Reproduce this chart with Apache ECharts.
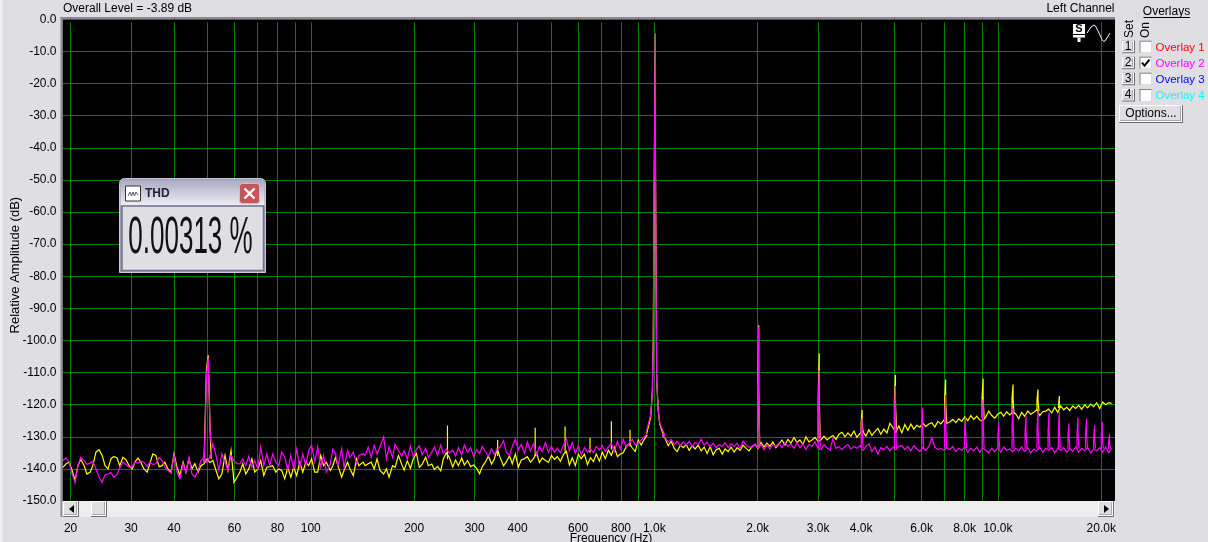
<!DOCTYPE html>
<html>
<head>
<meta charset="utf-8">
<style>html,body{margin:0;padding:0;background:#dfdfe3;overflow:hidden}#c{width:1208px;height:542px}</style>
<script src="https://cdn.jsdelivr.net/npm/echarts@6/dist/echarts.min.js"></script>
</head>
<body>
<div id="c"></div>
<script>
const noiseHz = [
19.0,19.4,19.8,20.2,20.6,21.0,21.4,21.9,22.3,22.8,
23.2,23.7,24.2,24.7,25.2,25.7,26.2,26.7,27.3,27.8,
28.4,29.0,29.6,30.2,30.8,31.4,32.0,32.7,33.4,34.0,
34.7,35.4,36.2,36.9,37.6,38.4,39.2,40.0,40.8,41.6,
42.5,43.3,44.2,45.1,46.0,47.0,47.9,48.9,49.9,50.9,
51.9,53.0,54.0,55.1,56.3,57.4,58.6,59.8,61.0,62.2,
63.4,64.7,66.0,67.4,68.7,70.1,71.5,73.0,74.5,76.0,
77.5,79.1,80.7,82.3,84.0,85.7,87.5,89.2,91.0,92.9,
94.8,96.7,98.6,100.6,102.7,104.8,106.9,109,111,114,
116,118,120,123,125,128,130,133,136,138,
142,144,147,150,153,156,159,163,166,169,
173,176,180,184,187,191,195,199,203,207,
211,216,220,225,229,234,239,243,248,253,
259,264,269,275,280,286,292,298,304,310,
316,322,329,336,342,349,356,364,371,379,
386,394,402,410,419,427,436,445,454,463,
472,482,492,502,512,522,533,544,555,566,
577,589,601,613,626,639,652,665,678,692,
706,720,735,750,765,781,796,812,829,846,
863,880,898,916,935,954,973,993,1013,1034,
1055,1076,1098,1120,1143,1166,1190,1214,1238,1263,
1289,1315,1342,1369,1397,1425,1454,1484,1514,1545,
1576,1607,1640,1673,1707,1742,1777,1813,1850,1887,
1926,1964,2004,2045,2086,2128,2171,2215,2260,2306,
2353,2401,2450,2499,2550,2602,2654,2708,2763,2819,
2876,2936,2995,3056,3118,3182,3246,3312,3379,3448,
3517,3589,3661,3736,3812,3889,3968,4048,4130,4214,
4299,4387,4476,4566,4659,4754,4850,4949,5049,5151,
5256,5362,5471,5582,5695,5811,5929,6049,6172,6297,
6425,6555,6688,6824,6962,7104,7248,7395,7545,7698,
7854,8013,8176,8342,8511,8684,8860,9040,9223,9410,
9601,9796,9995,10200,10400,10610,10830,11050,11270,11500,
11730,11970,12220,12470,12720,12980,13240,13510,13780,14060,
14350,14640,14940,15240,15550,15870,16190,16520,16850,17190,
17540,17900,18260,18630,19010,19400,19790,20190,20600,21020,
21450];

const yellowDb = [
-139.5,-138.4,-137.9,-140.5,-143.6,-139,-137,-139,-141.6,-141,
-139,-134.8,-134,-135.8,-139,-140,-136.9,-136.1,-136.6,-139,
-136.4,-137.2,-139,-140,-137.9,-136.6,-137.9,-140,-141,-138.4,
-135.3,-135.8,-139.3,-139,-137.9,-140,-141,-135.3,-139.5,-142,
-137.9,-141,-136.9,-140,-138.4,-141,-139,-138.4,-137,-138,
-137.4,-140.5,-143.1,-141.6,-135.8,-140.5,-134.3,-144.2,-142.6,-141,
-138.4,-141.6,-140,-136.9,-141,-140,-137.4,-142.1,-139.5,-139.3,
-139,-141,-140,-140.5,-143.1,-139.5,-142.6,-139.5,-142.1,-137.9,
-141,-137.9,-139,-136.9,-141,-141,-135.8,-139,-137.9,-140.5,
-139,-136.4,-139,-142.6,-140.5,-137.9,-140,-142.1,-136.9,-139,
-137.9,-139,-138.4,-137.9,-140,-136.9,-140.5,-141.6,-140,-142.6,
-139,-139.5,-135.8,
-138.6,-140.4,-137.5,-139.8,-136.8,-135.2,-139.5,-138.6,-136.4,-139,
-138.5,-140.2,-139.2,-140.6,-137,-135,-136.4,-139.4,-137.2,-139,
-136.6,-138.8,-137.4,-139.3,-138.8,-139.8,-141.5,-139.2,-138,-136,
-138.5,-137,-133.8,-136.5,-139,-137.8,-135.9,-138.4,-135.4,-139.4,
-137.2,-136.8,-136.2,-137.9,-136.8,-135,-138,-136.6,-137.4,-138,
-135.8,-137,-136.2,-137.6,-135.5,-134.6,-138.8,-136.6,-139,-135.5,
-136.8,-135.4,-138.7,-136.5,-137.7,-135.4,-137.6,-134.8,-136.8,-134.2,
-135.8,-133.2,-136.2,-135.4,-135,-133,-132,-133.5,-134.6,-131,
-132.6,-130.8,-129.4,null,
null,null,null,
-129.5,-130.6,-132.8,-131.4,-133.6,-134.6,-132.6,-133.4,-132.4,-134.2,
-132.8,-133.8,-132.6,-134.4,-133.2,-135.2,-133,-135.6,-134,-133.6,
-135.4,-133.8,-134.6,-133.2,-134.8,-133.4,-134.2,-132.6,-133.6,-134.4,
-133,-132.4,-133.6,-131.8,-133.2,-132,-133,-131.6,-133.4,-132.2,
-131,-132.6,-130.8,-132,-130.2,-131.8,-131,-132.4,-130,-131.6,
-131,-130.2,-131.4,-131,-129.8,-131,-130.2,-129.6,-130.8,-129.2,
-128.6,-130,-128.8,-129.8,-128.2,-130.2,-129,-128.4,-129.8,-127.8,
-129.6,-128.4,-127.4,-129.2,-127.6,-128.8,-125.8,-127.2,-128.6,-126.6,
-128.8,-126.2,-128,-126,-127.6,-126.4,-127,-125.8,-126.8,-126,
-125.6,-127,-125.2,-126,-124.8,-125.8,-125.4,-124.6,-125.6,-124.4,
-125.2,-123.8,-125,-123.4,-124.6,-123.6,-124.8,-125,-123.8,-122,
-123.4,-124.2,-123,-122.4,-123.6,-122.2,-123.2,-122.4,-122.8,-124.4,
-122.4,-123.6,-122,-123,-122.4,-121.6,-123.4,-122.2,-122,-121.4,
-122.6,-120.8,-122.4,-120.4,-121.6,-120.8,-121.8,-120.4,-121.2,-120.2,
-121.4,-120,-121,-119.8,-120.6,-119.4,-121.2,-119.2,-120,-119.4,-119.6];

const magentaDb = [
-137.4,-136.6,-137.9,-141.6,-144.2,-139,-136.4,-137.4,-138.6,-138.2,
-137.6,-140,-142.6,-144.2,-141.8,-141.6,-141.1,-142.6,-141.8,-139.7,
-137.9,-138.6,-139.5,-139.3,-137.9,-138.2,-137.6,-137.9,-139.3,-137.9,
-138.6,-138.4,-136.4,-137.4,-139.5,-140.5,-141.4,-135.8,-141,-143.1,
-138.4,-141,-136.4,-141.6,-142.6,-140.5,-137.4,-136.4,-138,-136,
-132.2,-135.8,-140.5,-135.3,-137.9,-140.5,-135.8,-137.4,-138.4,-138.4,
-136.9,-139,-136.1,-139.5,-137.4,-140,-133.2,-139,-135.3,-139,
-135.3,-137.9,-139,-134.8,-136.4,-140.5,-135.8,-140,-133.8,-139.5,
-135.3,-139,-134.3,-132.7,-137.9,-133.2,-139.5,-135.8,-141,-138.4,
-133.8,-135.3,-139,-133.8,-139.5,-134.3,-136.4,-134.8,-138.4,-135.8,
-135.3,-135.8,-133.2,-136.4,-132.7,-135.3,-133.2,-130.1,-136.9,-133.2,
-136.4,-132.4,-134.3,
-136,-134.4,-137,-133,-136.2,-134,-132.8,-135.6,-133.6,-136.4,
-134.8,-133.2,-135.8,-132.6,-135.2,-133.8,-135,-134.2,-136,-133.4,
-135.6,-132.6,-134.8,-133.4,-136.2,-134,-135.2,-133,-134.6,-136,
-133.8,-135.4,-134,-133.2,-131.2,-134.8,-135.8,-133,-130.8,-134,
-132.4,-135.2,-131.6,-134.4,-132.2,-135.6,-133,-134.6,-131.8,-134.8,
-133,-134.8,-133.6,-135,-132.6,-130.8,-134.4,-131.8,-135.2,-132.8,
-135.6,-133.4,-134.8,-133.8,-135,-133,-134.2,-132.8,-134.6,-133.2,
-132,-134.6,-131.4,-133.8,-130.8,-133.4,-132,-130.8,-132.6,-131.8,
-131,-130,-129,null,
null,null,null,
-129,-130.4,-131.6,-130.8,-132.4,-131.4,-132.8,-131.6,-132.6,-131.4,
-133,-131.8,-132.4,-130.8,-132.6,-131.6,-133.2,-132,-133.4,-132.4,
-133,-131.8,-133.4,-132.2,-133,-132,-133.6,-131.4,-132.6,-133.2,
-133.2,-132.2,-133.6,-132.4,-134,-132.6,-133.8,-132.4,-133,-132,
-133.4,-131.8,-133,-132.2,-133.6,-131.8,-133.4,-132.2,-134,-132.4,
-133,-131.6,-133.6,-134,-132.4,-133.4,-134.2,-130.6,-133.6,-133,
-134,-133,-132.4,-133.8,-133,-133.6,-132.8,-134.2,-133,-132.2,
-134.6,-133.2,-135.4,-133.4,-134,-133,-134.4,-133.2,-134,-133,
-132.8,-134,-133,-134.4,-132.8,-133.8,-134.6,-133.4,-134.2,-133,
-130.3,-133.2,-134,-133.6,-134.2,-133.4,-134,-133,-134.6,-133.6,
-134.2,-133.2,-134.8,-133.6,-134.4,-133.2,-134.8,-133.6,-134.2,-135,
-133.6,-134.6,-133.4,-134.8,-133.2,-134.2,-133.8,-134.6,-133.6,-134.4,
-133.2,-134.6,-133.4,-135,-133.8,-134.4,-133.2,-134.8,-133.6,-134.2,
-133.4,-135,-133.6,-134.2,-133.4,-134.8,-133.6,-134.6,-133.2,-134.8,
-133.6,-134.4,-133.4,-135,-133.8,-134.4,-133.4,-134.8,-133.2,-135,-133.6];

// Fundamental and hum: the traced outline of each peak, in order
const yellowPeakHz = [48.9,49.3,49.3,49.7,49.7,50.3,50.3,50.9,51.3,null,950,976,987,993,1000,1000,1007,1007,1007,1016,1016,1027,1027,1037,1051,1074];
const yellowPeakDb = [-138,-138,-124,-124,-109,-109,-104.6,-127,-137,null,-129,-124,-116,-100,-100,-46.6,-46.6,-5,-36.3,-36.3,-112,-112,-122,-126,-128,-130.5];
const magentaPeakHz = [48.9,49.3,49.3,49.7,49.7,50.3,50.3,50.9,51.3,null,950,976,987,993,1000,1000,1007,1007,1007,1016,1016,1027,1027,1037,1051,1074];
const magentaPeakDb = [-138,-138,-127,-127,-110.8,-110.8,-105.3,-127.2,-132.2,null,-128,-123.3,-116.2,-100.4,-100.4,-47,-47,-4.3,-38,-38,-112.4,-112.4,-121.7,-125.7,-127.3,-129.5];

// Harmonics of the test tone
const yellowHarmHz = [2000,3000,4000,5000,7000,9000,11000,13000,15000];
const yellowHarmTop = [-95.3,-104,-121.7,-110.8,-112.2,-111.9,-113.7,-115.3,-117.3];
const yellowHarmShoulder = [-114,-117.5,-125.7,-118.6,-118.4,-117.3,-118,-118.6,-120.5];
const yellowHarmBase = [-133,-130.5,-128.5,-127.5,-125.5,-124,-123,-122,-121];
const magentaHarmHz = [2000,3000,4000,5000,6000,7000,8000,9000,10000,11000,12000,13000,14000,15000,16000,17000,18000,19000,20000,21000];
const magentaHarmTop = [-95.8,-109.3,-124.3,-114.2,-121.2,-117,-123.8,-118.4,-125.5,-121.1,-123.3,-122,-122.5,-122.2,-125.9,-124,-124.3,-126.4,-125.4,-129.2];
const magentaHarmShoulder = [-114.5,-121,-128,-123.6,-126.4,-124.3,-128.2,-125.4,-129.7,-126,-128.5,-127.7,-128.2,-127.7,-129.2,-128.8,-129,-130.5,-129.8,-132];
const magentaHarmBase = [-133.5,-133.5,-133.5,-133.5,-133.5,-133.5,-133.5,-133.7,-133.7,-133.7,-133.7,-133.7,-133.7,-133.7,-133.7,-133.7,-133.7,-133.7,-133.7,-133.7];

// Mains-related lines that stand out of the yellow trace
const yellowLineHz = [250,350,450,550,650,750,850];
const yellowLineTop = [-126.5,-131,-127.2,-126.8,-130.3,-125.2,-127.8];
const yellowLineBase = [-137,-136,-136,-135,-135,-134,-133];

const gridHz = [20,30,40,50,60,70,80,90,100,200,300,400,500,600,700,800,900,1000,2000,3000,4000,5000,6000,7000,8000,9000,10000,20000];
const labelHz = [20,30,40,60,80,100,200,300,400,600,800,1000,2000,3000,4000,6000,8000,10000,20000];
const labelText = ['20','30','40','60','80','100','200','300','400','600','800','1.0k','2.0k','3.0k','4.0k','6.0k','8.0k','10.0k','20.0k'];
const overlayNames = ['Overlay 1','Overlay 2','Overlay 3','Overlay 4'];
const overlayColors = ['#ff0000','#ff00ff','#0000ff','#00ffff'];
const overlayOn = [false,true,false,false];

const pairs = (xs, ys) => xs.map((x, i) => [x, ys[i]]);
function harm(hz, top, sh, base) {
  const out = [];
  const step = 1.0067;
  hz.forEach((f, i) => {
    const l = f, m = f * step, r = f * step * step;
    out.push([l, base[i]], [l, sh[i]], [m, sh[i]], [m, top[i]], [m, sh[i]], [r, sh[i]], [r, base[i]], [null, null]);
  });
  return out;
}
function lines(hz, top, base) {
  const out = [];
  hz.forEach((f, i) => out.push([f, base[i]], [f, top[i]], [f, base[i]], [null, null]));
  return out;
}
const peak = (xs, ys) => xs.map((x, i) => x === null ? [null, null] : [x, ys[i]]);

const FACE = '#dfdfe3';
const lineSeries = (name, color, data, z, width) => ({
  type: 'line', name, data, z, showSymbol: false, symbol: 'none', connectNulls: false,
  lineStyle: { color, width: width || 1.2, join: 'miter' }, emphasis: { disabled: true }, silent: true, animation: false
});

function button(x, y, w, h) {
  return [
    { type: 'rect', shape: { x, y, width: w, height: h }, style: { fill: '#6e6e6e' }, z: 20 },
    { type: 'rect', shape: { x, y, width: w - 1, height: h - 1 }, style: { fill: '#ffffff' }, z: 21 },
    { type: 'rect', shape: { x: x + 1, y: y + 1, width: w - 3, height: h - 3 }, style: { fill: '#a8a8a8' }, z: 22 },
    { type: 'rect', shape: { x: x + 1, y: y + 1, width: w - 4, height: h - 4 }, style: { fill: FACE }, z: 23 }
  ];
}
const txt = (text, x, y, o) => Object.assign({ type: 'text', x, y, z: 30, style: Object.assign({ text, fill: '#000', font: '12px "Liberation Sans"', align: 'left', verticalAlign: 'middle' }, (o && o.style) || {}) }, o ? { rotation: o.rotation || 0, scaleX: o.scaleX || 1 } : {});

const rowY = [40.7, 56.7, 72.7, 89];
const g = [];
// page edge and plot frame
g.push({ type: 'rect', shape: { x: 0, y: 0, width: 2.5, height: 542 }, style: { fill: '#eef0f6' }, z: 1 });
g.push({ type: 'rect', shape: { x: 60.5, y: 17, width: 1054.5, height: 2.3 }, style: { fill: '#8a8a8a' }, z: 1 });
g.push({ type: 'rect', shape: { x: 60.5, y: 17, width: 2, height: 500 }, style: { fill: '#8a8a8a' }, z: 1 });
// scrollbar
g.push({ type: 'rect', shape: { x: 62.5, y: 501, width: 1052.5, height: 16 }, style: { fill: '#eeeeee' }, z: 5 });
g.push(...button(63, 501, 16, 16));
g.push({ type: 'polygon', shape: { points: [[74, 505], [74, 513], [69, 509]] }, style: { fill: '#000' }, z: 30 });
g.push(...button(91, 501, 16, 16));
g.push(...button(1098, 501, 16, 16));
g.push({ type: 'polygon', shape: { points: [[1104, 505], [1104, 513], [1109, 509]] }, style: { fill: '#000' }, z: 30 });
// headers
g.push(txt('Overall Level = -3.89 dB', 63, 8.5));
g.push(txt('Left Channel', 1114.5, 8.5, { style: { align: 'right' } }));
g.push(txt('Frequency (Hz)', 611, 538.5, { style: { align: 'center' } }));
// overlay panel
g.push(txt('Overlays', 1166.5, 11.5, { style: { align: 'center' } }));
g.push({ type: 'rect', shape: { x: 1143.5, y: 17, width: 46.5, height: 1 }, style: { fill: '#000' }, z: 30 });
g.push(txt('Set', 1130, 29, { rotation: Math.PI / 2, style: { align: 'center' } }));
g.push(txt('On', 1146, 30, { rotation: Math.PI / 2, style: { align: 'center' } }));
overlayNames.forEach((n, i) => {
  const y = rowY[i];
  g.push(...button(1122, y, 13, 12.5));
  g.push(txt(String(i + 1), 1128, y + 6, { style: { align: 'center' } }));
  g.push({ type: 'rect', shape: { x: 1139.5, y, width: 12, height: 12 }, style: { fill: '#808080' }, z: 20 });
  g.push({ type: 'rect', shape: { x: 1140.5, y: y + 1, width: 11, height: 11 }, style: { fill: '#ffffff' }, z: 21 });
  if (overlayOn[i]) g.push({ type: 'polyline', shape: { points: [[1142, y + 6], [1144.5, y + 9], [1149.5, y + 3]] }, style: { stroke: '#000', lineWidth: 2, fill: null }, z: 30 });
  g.push(txt(n, 1155.5, y + 7, { style: { fill: overlayColors[i], font: '11.5px "Liberation Sans"' } }));
});
g.push(...button(1119, 105, 64, 18));
g.push(txt('Options...', 1151, 114, { style: { align: 'center' } }));
// ST / sine glyph
g.push({ type: 'rect', shape: { x: 1073, y: 24, width: 12, height: 10 }, style: { fill: '#fff' }, z: 30 });
g.push(txt('S', 1079, 29.2, { style: { align: 'center', font: 'bold 11px "Liberation Sans"' } }));
g.push({ type: 'rect', shape: { x: 1073, y: 35, width: 12, height: 2.5 }, style: { fill: '#fff' }, z: 30 });
g.push({ type: 'rect', shape: { x: 1077.5, y: 37.5, width: 3, height: 4.5 }, style: { fill: '#fff' }, z: 30 });
g.push({ type: 'polyline', shape: { points: [[1087, 33], [1091, 27], [1094, 25], [1095.5, 26], [1099, 33], [1102, 39.5], [1103.5, 41.5], [1105, 41], [1110, 33]] }, style: { stroke: '#fff', lineWidth: 1, fill: null }, z: 30 });
// THD window
g.push({ type: 'rect', shape: { x: 119.5, y: 178.5, width: 146, height: 94, r: [5, 5, 0, 0] }, style: { fill: '#9a9ab4', stroke: '#c9c9d6', lineWidth: 1 }, z: 40 });
g.push({ type: 'rect', shape: { x: 120.5, y: 179.5, width: 144, height: 26, r: [4, 4, 0, 0] }, style: { fill: { type: 'linear', x: 0, y: 0, x2: 0, y2: 1, colorStops: [{ offset: 0, color: '#a9a9c2' }, { offset: 1, color: '#eeeef4' }] } }, z: 41 });
g.push({ type: 'rect', shape: { x: 122, y: 206, width: 141.5, height: 64.5 }, style: { fill: FACE, stroke: '#74748e', lineWidth: 1.5 }, z: 41 });
g.push({ type: 'rect', shape: { x: 125.5, y: 186, width: 15, height: 15 }, style: { fill: '#fff', stroke: '#333', lineWidth: 1 }, z: 42 });
g.push({ type: 'polyline', shape: { points: [[128, 196], [130, 192], [131.5, 196], [133, 192], [134.5, 196], [136, 192], [138, 195]] }, style: { stroke: '#555', lineWidth: 1, fill: null }, z: 43 });
g.push(Object.assign(txt('THD', 145, 193.5, { style: { font: 'bold 12px "Liberation Sans"', fill: '#222238' } }), { z: 43 }));
g.push({ type: 'rect', shape: { x: 239.5, y: 183.5, width: 20, height: 20, r: 3 }, style: { fill: '#c4555a', stroke: '#e6b2b2', lineWidth: 1 }, z: 42 });
g.push({ type: 'line', shape: { x1: 244.5, y1: 188.5, x2: 254.5, y2: 198.5 }, style: { stroke: '#fff', lineWidth: 2.4 }, z: 43 });
g.push({ type: 'line', shape: { x1: 254.5, y1: 188.5, x2: 244.5, y2: 198.5 }, style: { stroke: '#fff', lineWidth: 2.4 }, z: 43 });
g.push(Object.assign(txt('0.00313 %', 190.5, 239, { scaleX: 0.51, style: { font: '51px "Liberation Sans"', align: 'center', fill: '#111' } }), { z: 43 }));

const option = {
  animation: false,
  backgroundColor: FACE,
  textStyle: { fontFamily: '"Liberation Sans", Arial, sans-serif' },
  grid: { left: 62.5, right: 93, top: 19.3, height: 481.7, containLabel: false, outerBoundsMode: 'none', show: true, backgroundColor: '#000', borderWidth: 0 },
  xAxis: {
    type: 'log', logBase: 10, min: 18.94, max: 21930, offset: 16,
    axisLine: { show: false },
    axisTick: { show: true, length: 3, inside: false, lineStyle: { color: '#000' }, customValues: gridHz },
    axisLabel: {
      show: true, color: '#000', fontSize: 12, margin: 6, customValues: labelHz,
      formatter: v => { const i = labelHz.findIndex(f => Math.abs(f - v) / f < 1e-6); return i < 0 ? '' : labelText[i]; }
    },
    minorTick: { show: false }, minorSplitLine: { show: false },
    splitLine: { show: true, lineStyle: { color: '#008000', width: 1 } }
  },
  yAxis: {
    type: 'value', min: -150, max: 0, interval: 10,
    name: 'Relative Amplitude (dB)', nameLocation: 'middle', nameGap: 41, nameMoveOverlap: false,
    nameTextStyle: { color: '#000', fontSize: 13, padding: [0, 10, 0, 0] },
    axisLine: { show: false }, axisTick: { show: false },
    axisLabel: { color: '#000', fontSize: 12, margin: 6, formatter: v => v.toFixed(1) },
    splitLine: { show: true, lineStyle: { color: '#008000', width: 1 } }
  },
  series: [
    lineSeries('Current', '#ffff00', pairs(noiseHz, yellowDb), 2),
    lineSeries('Current lines', '#ffff00', lines(yellowLineHz, yellowLineTop, yellowLineBase), 3),
    lineSeries('Current peaks', '#ffff00', peak(yellowPeakHz, yellowPeakDb), 3),
    lineSeries('Current harmonics', '#ffff00', harm(yellowHarmHz, yellowHarmTop, yellowHarmShoulder, yellowHarmBase), 3),
    lineSeries('Overlay 2', '#ff00ff', pairs(noiseHz, magentaDb), 4),
    lineSeries('Overlay 2 peaks', '#ff00ff', peak(magentaPeakHz, magentaPeakDb), 5),
    lineSeries('Overlay 2 harmonics', '#ff00ff', harm(magentaHarmHz, magentaHarmTop, magentaHarmShoulder, magentaHarmBase), 5)
  ],
  graphic: { elements: g }
};
const chart = echarts.init(document.getElementById('c'), null, { renderer: 'canvas', width: 1208, height: 542 });
chart.setOption(option);
</script>
</body>
</html>
